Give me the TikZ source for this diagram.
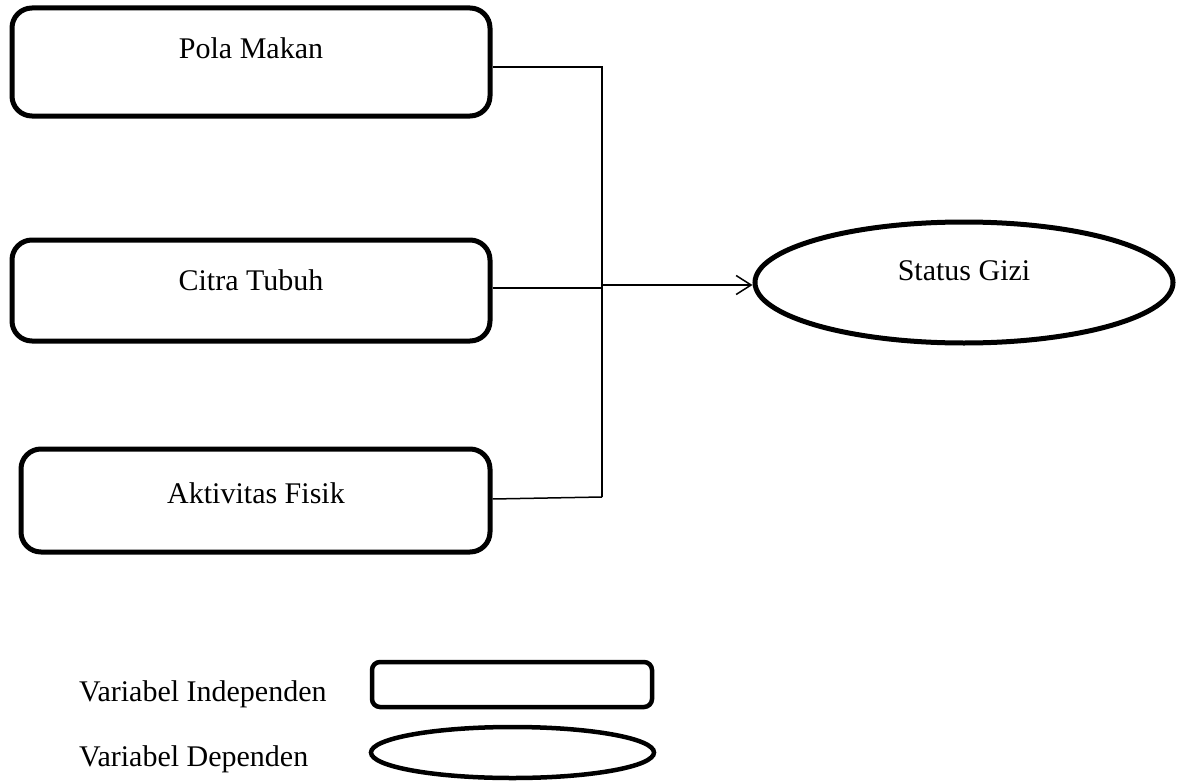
\documentclass[tikz,border=0pt]{standalone}
\usepackage{fontspec}
\setmainfont{Liberation Serif}
\usetikzlibrary{shapes.geometric,arrows.meta,calc}
\begin{document}
\begin{tikzpicture}[x=1pt,y=-1pt,
  varbox/.style={draw=black,line width=5pt,rounded corners=20pt,rectangle,inner sep=0pt},
  varell/.style={draw=black,line width=5pt,ellipse,inner sep=0pt},
  lbl/.style={font=\fontsize{30}{36}\selectfont,inner sep=0pt,anchor=base},
  conn/.style={draw=black,line width=1.5pt}]
\useasboundingbox (0,0) rectangle (1178,784);
% main boxes
\node[varbox,minimum width=478pt,minimum height=108pt] (pm) at (251,62) {};
\node[varbox,minimum width=478pt,minimum height=101pt] (ct) at (251,290.5) {};
\node[varbox,minimum width=469pt,minimum height=103pt] (af) at (255.5,500.5) {};
\node[varell,minimum width=418pt,minimum height=121pt] (sg) at (964,282.5) {};
% labels
\node[lbl] (tpm) at (251,59) {Pola Makan};
\node[lbl] (tct) at (251,290) {Citra Tubuh};
\node[lbl] (taf) at (256,503) {Aktivitas Fisik};
\node[lbl] (tsg) at (964,280) {Status Gizi};
% junction points
\coordinate (j1) at (602,67);
\coordinate (j2) at (602,288);
\coordinate (j3) at (602,497);
\coordinate (j4) at (602,285);
\draw[conn] (pm.east |- j1) -- (j1) -- (j3);
\draw[conn] (ct.east |- j2) -- (j2);
\draw[conn] ($(af.east)+(0,-1.5)$) -- (j3);
\draw[conn,-{Straight Barb[length=15pt,width=19pt,line width=1.5pt]}] (j4) -- (sg.west |- j4);
% legend
\node[lbl,anchor=base west] (tind) at (79,701) {Variabel Independen};
\node[lbl,anchor=base west] (tdep) at (79,766) {Variabel Dependen};
\node[varbox,rounded corners=8pt,line width=4.5pt,minimum width=280pt,minimum height=45pt] (lbox) at (512,684.5) {};
\node[varell,line width=4.5pt,minimum width=283pt,minimum height=51pt] (lell) at (512.5,752.5) {};
\end{tikzpicture}
\end{document}
